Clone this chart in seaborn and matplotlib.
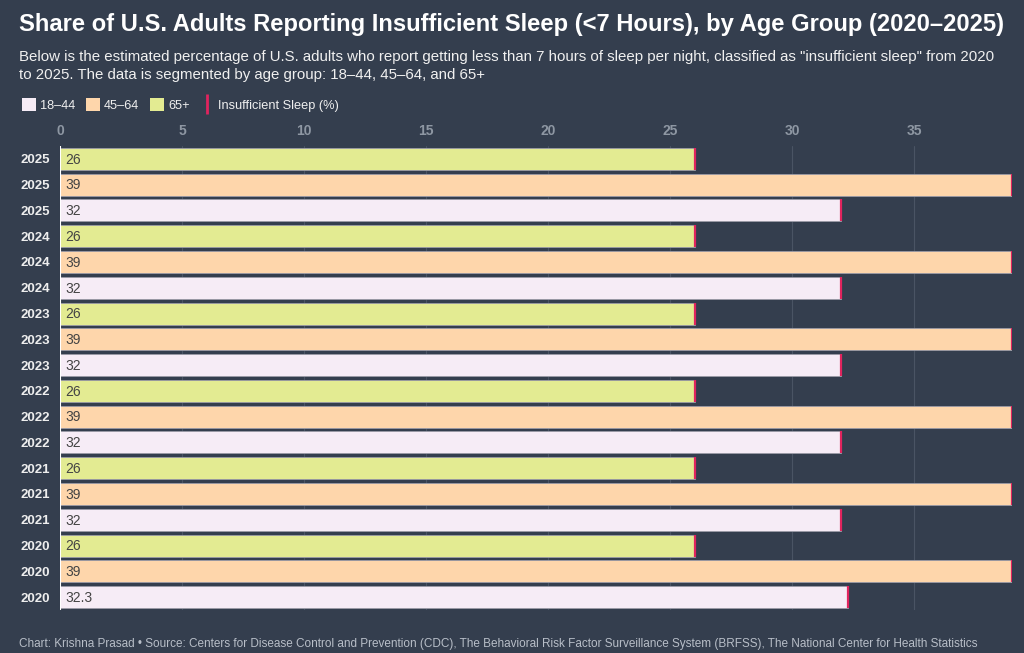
import matplotlib
matplotlib.use("Agg")
import matplotlib.pyplot as plt
import seaborn as sns
import pandas as pd
from matplotlib.patches import Patch
from matplotlib.lines import Line2D

years = [2025, 2024, 2023, 2022, 2021, 2020]
groups = ["65+", "45–64", "18–44"]
v_18_44 = [32, 32, 32, 32, 32, 32.3]
v_45_64 = [39, 39, 39, 39, 39, 39]
v_65 = [26, 26, 26, 26, 26, 26]
x_ticks = [0, 5, 10, 15, 20, 25, 30, 35]

BG = "#343e4e"
colors = {"18–44": "#f6ecf6", "45–64": "#fed6ab", "65+": "#e3eb92"}
END = "#e0245e"

rows = []
for i, y in enumerate(years):
    for g, vals in (("65+", v_65), ("45–64", v_45_64), ("18–44", v_18_44)):
        rows.append({"row": f"{y}-{g}", "year": str(y), "group": g, "value": vals[i]})
df = pd.DataFrame(rows)

sns.set_theme(style="dark")
plt.rcParams["font.family"] = ["Liberation Sans", "DejaVu Sans"]

fig = plt.figure(figsize=(10.24, 6.53), dpi=100, facecolor=BG)
ax = fig.add_axes([60 / 1024, 1 - 610 / 653, (1012 - 60) / 1024, (610 - 146) / 653])
ax.set_facecolor(BG)

sns.barplot(data=df, x="value", y="row", hue="group", dodge=False, orient="h",
            palette=colors, saturation=1, width=0.85, ax=ax, legend=False,
            edgecolor="#9a9aa6", linewidth=0.6)

for p in ax.patches:
    w = p.get_width()
    if w <= 0:
        continue
    ax.plot([p.get_x() + w] * 2, [p.get_y(), p.get_y() + p.get_height()],
            color=END, lw=1.6, solid_capstyle="butt", zorder=4)

for i, r in df.iterrows():
    lbl = f"{r['value']:g}"
    ax.text(0.22, i + 0.03, lbl, va="center", ha="left", fontsize=10, color="#444444", zorder=5)

ax.set_xlim(0, 39)
ax.set_ylim(len(df) - 0.5, -0.5)
ax.set_xticks(x_ticks)
ax.xaxis.tick_top()
ax.tick_params(axis="x", colors="#8e97a3", labelsize=10, length=0, pad=6)
ax.tick_params(axis="y", colors="#eeeeee", labelsize=9.5, length=0, pad=7)
ax.set_yticks(range(len(df)))
ax.set_yticklabels(df["year"].tolist())
for t in ax.get_yticklabels():
    t.set_fontweight("bold")
for t in ax.get_xticklabels():
    t.set_fontweight("bold")
ax.set_xlabel("")
ax.set_ylabel("")
ax.grid(axis="x", color="#4a5464", lw=0.8)
ax.grid(axis="y", visible=False)
ax.set_axisbelow(True)
for s in ax.spines.values():
    s.set_visible(False)
ax.axvline(0, color="#ffffff", lw=1.5, zorder=6)

fig.text(19 / 1024, 1 - 24 / 653, "Share of U.S. Adults Reporting Insufficient Sleep (<7 Hours), by Age Group (2020–2025)",
         fontsize=17.1, fontweight="bold", color="#ffffff", va="center", ha="left")
fig.text(19 / 1024, 1 - 66 / 653,
         "Below is the estimated percentage of U.S. adults who report getting less than 7 hours of sleep per night, classified as \"insufficient sleep\" from 2020\n"
         "to 2025. The data is segmented by age group: 18–44, 45–64, and 65+",
         fontsize=10.8, color="#f0f0f0", va="center", ha="left", linespacing=1.35)
fig.text(19 / 1024, 1 - 644 / 653,
         "Chart: Krishna Prasad • Source: Centers for Disease Control and Prevention (CDC), The Behavioral Risk Factor Surveillance System (BRFSS), The National Center for Health Statistics",
         fontsize=8.5, color="#b8bec8", va="center", ha="left")

handles = [Patch(facecolor=colors["18–44"], edgecolor="none"),
           Patch(facecolor=colors["45–64"], edgecolor="none"),
           Patch(facecolor=colors["65+"], edgecolor="none"),
           Line2D([], [], color=END, marker="|", ls="none", markersize=14, markeredgewidth=2)]
labels = ["18–44", "45–64", "65+", "Insufficient Sleep (%)"]
leg = fig.legend(handles, labels, loc="center left", bbox_to_anchor=(10 / 1024, 1 - 105 / 653),
                 ncol=4, frameon=False, fontsize=9.2, labelcolor="#f0f0f0",
                 handlelength=1.15, handleheight=1.25, handletextpad=0.3, columnspacing=0.8)

fig.savefig("out.png", dpi=100, facecolor=BG)
